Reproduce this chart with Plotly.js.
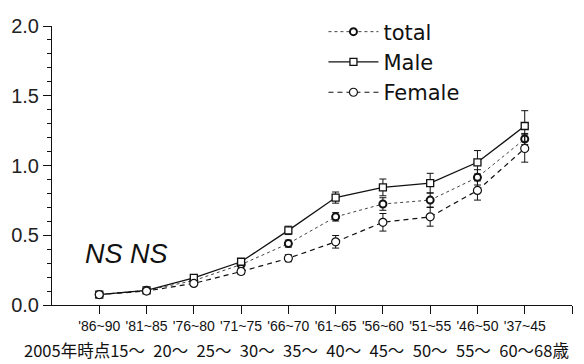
<!DOCTYPE html>
<html>
<head>
<meta charset="utf-8">
<script src="https://cdn.plot.ly/plotly-3.0.1.min.js"></script>
<style>html,body{margin:0;padding:0;background:#fff;}#chart{width:584px;height:364px;}</style>
</head>
<body>
<div id="chart"></div>
<script>
const categories = ["'86~90","'81~85","'76~80","'71~75","'66~70","'61~65","'56~60","'51~55","'46~50","'37~45"];
const ageLabels = ["2005年時点15～","20～","25～","30～","35～","40～","45～","50～","55～","60～68歳"];
const totalVals = [0.075,0.105,0.175,0.29,0.44,0.632,0.724,0.752,0.915,1.19];
const totalErr  = [0.005,0.005,0.01,0.015,0.025,0.03,0.045,0.05,0.055,0.04];
const maleVals  = [0.075,0.105,0.195,0.31,0.535,0.77,0.843,0.874,1.023,1.283];
const maleErr   = [0.005,0.005,0.01,0.02,0.03,0.04,0.06,0.07,0.084,0.11];
const femaleVals= [0.075,0.10,0.155,0.24,0.335,0.453,0.593,0.632,0.821,1.122];
const femaleErr = [0.005,0.005,0.01,0.02,0.025,0.045,0.063,0.067,0.069,0.098];

const idx = categories.map((_, i) => i);
const ink = '#111';

function errBar(arr){ return {type:'data', array:arr, visible:true, color:ink, thickness:1, width:3.5}; }

const traces = [
  {x: idx, y: totalVals, name: 'total', mode: 'lines+markers', legendgroup:'a',
   line: {color: '#444', width: 1, dash: 'dot'},
   marker: {symbol: 'circle', size: 7, color: '#fff', line: {color: ink, width: 2}},
   error_y: errBar(totalErr)},
  {x: idx, y: maleVals, name: 'Male', mode: 'lines+markers', legendgroup:'b',
   line: {color: ink, width: 1.3},
   marker: {symbol: 'square', size: 7, color: '#fff', line: {color: ink, width: 1.3}},
   error_y: errBar(maleErr)},
  {x: idx, y: femaleVals, name: 'Female', mode: 'lines+markers', legendgroup:'c',
   line: {color: ink, width: 1.2, dash: '5px,4px'},
   marker: {symbol: 'circle', size: 8, color: '#fff', line: {color: ink, width: 1.2}},
   error_y: errBar(femaleErr)}
];

const layout = {
  width: 584, height: 364,
  margin: {l: 52, r: 12, t: 15, b: 59},
  paper_bgcolor: '#fff', plot_bgcolor: '#fff',
  font: {family: 'Liberation Sans, Arial, sans-serif', color: ink},
  showlegend: true,
  legend: {x: 0.522, y: 1.052, xanchor: 'left', yanchor: 'top', bgcolor: 'rgba(0,0,0,0)',
           font: {size: 21, color: ink, family: 'DejaVu Sans, sans-serif'}, itemwidth: 50,
           traceorder: 'grouped', tracegroupgap: 0},
  xaxis: {
    range: [-1, 10],
    tickmode: 'array', tickvals: idx.concat([10]), ticktext: categories.concat(['']),
    ticks: 'outside', ticklen: 8, tickcolor: ink, tickwidth: 1,
    showline: true, linecolor: ink, linewidth: 1,
    showgrid: false, zeroline: false,
    tickfont: {size: 14, color: ink, family: 'Liberation Sans, Arial, sans-serif'}
  },
  yaxis: {
    range: [0, 2.0], dtick: 0.5, tick0: 0, tickformat: '.1f',
    ticks: 'outside', ticklen: 8, tickcolor: ink, tickwidth: 1,
    minor: {dtick: 0.1, ticks: 'outside', ticklen: 4, tickcolor: ink, showgrid: false},
    showline: true, linecolor: ink, linewidth: 1,
    showgrid: false, zeroline: false,
    tickfont: {size: 20, color: '#222'}
  },
  annotations: [
    {text: '<i>NS NS</i>', xref: 'paper', yref: 'paper', x: (83-52)/520, y: (305-252)/290,
     xanchor: 'left', yanchor: 'middle', showarrow: false,
     font: {size: 27, color: ink, family: 'Liberation Sans, Arial, sans-serif'}},
    {text: ageLabels.join('  \u200A'), xref: 'paper', yref: 'paper', x: (22-52)/520, y: (305-352)/290,
     xanchor: 'left', yanchor: 'middle', showarrow: false,
     font: {size: 16.5, color: ink, family: 'Noto Sans CJK JP, sans-serif'}}
  ]
};

Plotly.newPlot('chart', traces, layout, {displayModeBar: false, staticPlot: true});
</script>
</body>
</html>
